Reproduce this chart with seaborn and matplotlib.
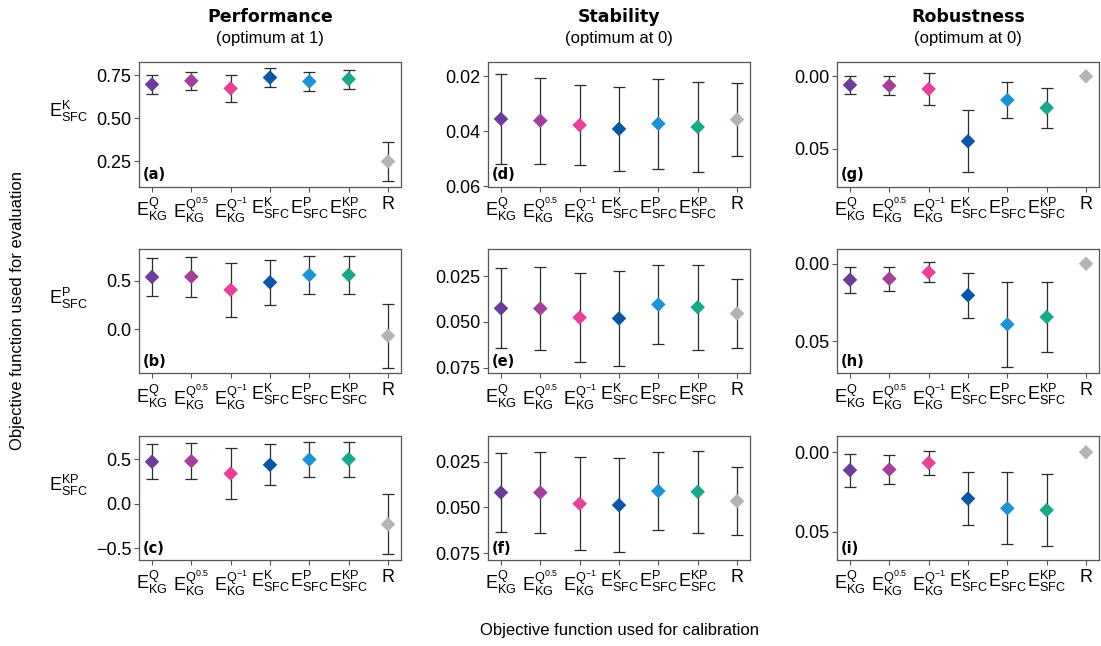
import numpy as np
import pandas as pd
import matplotlib
matplotlib.use("Agg")
import matplotlib.pyplot as plt
from matplotlib.ticker import FuncFormatter
import seaborn as sns

# ---------------- data ----------------
categories = [r"$\mathregular{E_{KG}^{Q}}$", r"$\mathregular{E_{KG}^{Q^{0.5}}}$",
              r"$\mathregular{E_{KG}^{Q^{-1}}}$", r"$\mathregular{E_{SFC}^{K}}$",
              r"$\mathregular{E_{SFC}^{P}}$", r"$\mathregular{E_{SFC}^{KP}}$", "R"]
colors = ["#6a3d9a", "#a3409a", "#e7419b", "#0b55a5", "#1d93d6", "#1aa88b", "#b4b4b4"]

row_labels = [r"$\mathregular{E_{SFC}^{K}}$", r"$\mathregular{E_{SFC}^{P}}$", r"$\mathregular{E_{SFC}^{KP}}$"]
col_titles = ["Performance", "Stability", "Robustness"]
col_subtitles = ["(optimum at 1)", "(optimum at 0)", "(optimum at 0)"]
panel_letters = ["(a)", "(b)", "(c)", "(d)", "(e)", "(f)", "(g)", "(h)", "(i)"]

perf_K_mean = [0.696, 0.717, 0.673, 0.736, 0.713, 0.727, 0.250]
perf_K_std = [0.055, 0.053, 0.079, 0.054, 0.054, 0.055, 0.112]
perf_P_mean = [0.541, 0.544, 0.407, 0.486, 0.562, 0.562, -0.069]
perf_P_std = [0.200, 0.208, 0.283, 0.231, 0.200, 0.200, 0.330]
perf_KP_mean = [0.470, 0.478, 0.338, 0.436, 0.496, 0.500, -0.232]
perf_KP_std = [0.195, 0.199, 0.282, 0.230, 0.193, 0.197, 0.336]

stab_K_mean = [0.0356, 0.0362, 0.0378, 0.0392, 0.0373, 0.0385, 0.0358]
stab_K_std = [0.0165, 0.0156, 0.0146, 0.0153, 0.0164, 0.0164, 0.0132]
stab_P_mean = [0.0426, 0.0427, 0.0476, 0.0481, 0.0405, 0.0420, 0.0454]
stab_P_std = [0.0218, 0.0226, 0.0241, 0.0261, 0.0218, 0.0232, 0.0190]
stab_KP_mean = [0.0419, 0.0419, 0.0480, 0.0488, 0.0411, 0.0415, 0.0466]
stab_KP_std = [0.0213, 0.0222, 0.0255, 0.0255, 0.0213, 0.0224, 0.0184]

rob_K_mean = [0.0060, 0.0065, 0.0088, 0.0449, 0.0164, 0.0218, 0.0]
rob_K_std = [0.0063, 0.0065, 0.0110, 0.0215, 0.0125, 0.0140, 0.0]
rob_P_mean = [0.0104, 0.0097, 0.0055, 0.0204, 0.0392, 0.0344, 0.0]
rob_P_std = [0.0086, 0.0076, 0.0066, 0.0145, 0.0275, 0.0224, 0.0]
rob_KP_mean = [0.0113, 0.0109, 0.0067, 0.0292, 0.0353, 0.0364, 0.0]
rob_KP_std = [0.0104, 0.0093, 0.0077, 0.0168, 0.0227, 0.0228, 0.0]

# layout of panels: [row][col]
panels = [
    [(perf_K_mean, perf_K_std), (stab_K_mean, stab_K_std), (rob_K_mean, rob_K_std)],
    [(perf_P_mean, perf_P_std), (stab_P_mean, stab_P_std), (rob_P_mean, rob_P_std)],
    [(perf_KP_mean, perf_KP_std), (stab_KP_mean, stab_KP_std), (rob_KP_mean, rob_KP_std)],
]
ylims = [
    [(0.105, 0.826), (0.0601, 0.0149), (0.0762, -0.0099)],
    [(-0.458, 0.834), (0.078, 0.0101), (0.0708, -0.0097)],
    [(-0.631, 0.765), (0.0787, 0.0108), (0.0678, -0.0105)],
]
yticks = [
    [[0.25, 0.5, 0.75], [0.02, 0.04, 0.06], [0.0, 0.05]],
    [[0.0, 0.5], [0.025, 0.05, 0.075], [0.0, 0.05]],
    [[-0.5, 0.0, 0.5], [0.025, 0.05, 0.075], [0.0, 0.05]],
]
yfmt = [
    ["%.2f", "%.2f", "%.2f"],
    ["%.1f", "%.3f", "%.2f"],
    ["%.1f", "%.3f", "%.2f"],
]

# ---------------- style ----------------
sns.set_style("ticks")
plt.rcParams["font.family"] = ["Liberation Sans", "DejaVu Sans"]
plt.rcParams["mathtext.default"] = "regular"
plt.rcParams["text.color"] = "black"
plt.rcParams["axes.labelcolor"] = "black"
plt.rcParams["axes.edgecolor"] = "#555555"
plt.rcParams["axes.linewidth"] = 0.9
plt.rcParams["xtick.color"] = "#555555"
plt.rcParams["ytick.color"] = "#555555"
plt.rcParams["xtick.labelcolor"] = "black"
plt.rcParams["ytick.labelcolor"] = "black"

fig, axes = plt.subplots(3, 3, figsize=(11.01, 6.46), dpi=100)
fig.subplots_adjust(left=139 / 1101, right=1099 / 1101, top=1 - 62 / 646,
                    bottom=1 - 560 / 646, wspace=0.332, hspace=0.5)

for r in range(3):
    for c in range(3):
        ax = axes[r][c]
        mean, std = panels[r][c]
        df = pd.DataFrame({"calibration": categories, "mean": mean, "std": std})
        sns.scatterplot(data=df, x="calibration", y="mean", hue="calibration",
                        palette=colors, marker="D", s=55, linewidth=0,
                        legend=False, ax=ax, zorder=3)
        m = df["std"] > 0
        ax.errorbar(df.loc[m, "calibration"], df.loc[m, "mean"], yerr=df.loc[m, "std"],
                    fmt="none", ecolor="#2b2b2b", elinewidth=0.9, capsize=4,
                    capthick=0.9, zorder=2)
        ax.set_xlim(-0.33, 6.33)
        ax.set_ylim(*ylims[r][c])
        ax.set_yticks(yticks[r][c])
        f = yfmt[r][c]
        ax.yaxis.set_major_formatter(FuncFormatter(lambda v, p, f=f: (f % v).replace("-", "\u2212")))
        ax.tick_params(axis="both", labelsize=13, length=3.5, width=0.8, pad=2)
        ax.tick_params(axis="x", pad=3)
        ax.set_xlabel("")
        ax.set_ylabel("")
        for s in ax.spines.values():
            s.set_visible(True)
        ax.text(0.015, 0.035, panel_letters[c * 3 + r], transform=ax.transAxes,
                fontsize=10.5, fontweight="bold", family="DejaVu Sans", color="black",
                ha="left", va="bottom")
        if c == 0:
            ax.set_ylabel(row_labels[r], rotation=0, fontsize=13, ha="center", va="center")
            ax.yaxis.set_label_coords(-0.27, 0.6)
        if r == 0:
            ax.annotate(col_titles[c], xy=(0.5, 1), xycoords="axes fraction",
                        xytext=(0, 32.5), textcoords="offset points", ha="center",
                        va="center", fontsize=12.5, fontweight="bold", family="DejaVu Sans",
                        color="black")
            ax.annotate(col_subtitles[c], xy=(0.5, 1), xycoords="axes fraction",
                        xytext=(0, 17), textcoords="offset points", ha="center",
                        va="center", fontsize=12, color="black")

fig.text(18 / 1101, 1 - 310 / 646, "Objective function used for evaluation",
         rotation=90, ha="center", va="center", fontsize=12, color="black")
fig.text(620 / 1101, 1 - 630 / 646, "Objective function used for calibration",
         ha="center", va="center", fontsize=12, color="black")

fig.savefig("out.png", dpi=100)
